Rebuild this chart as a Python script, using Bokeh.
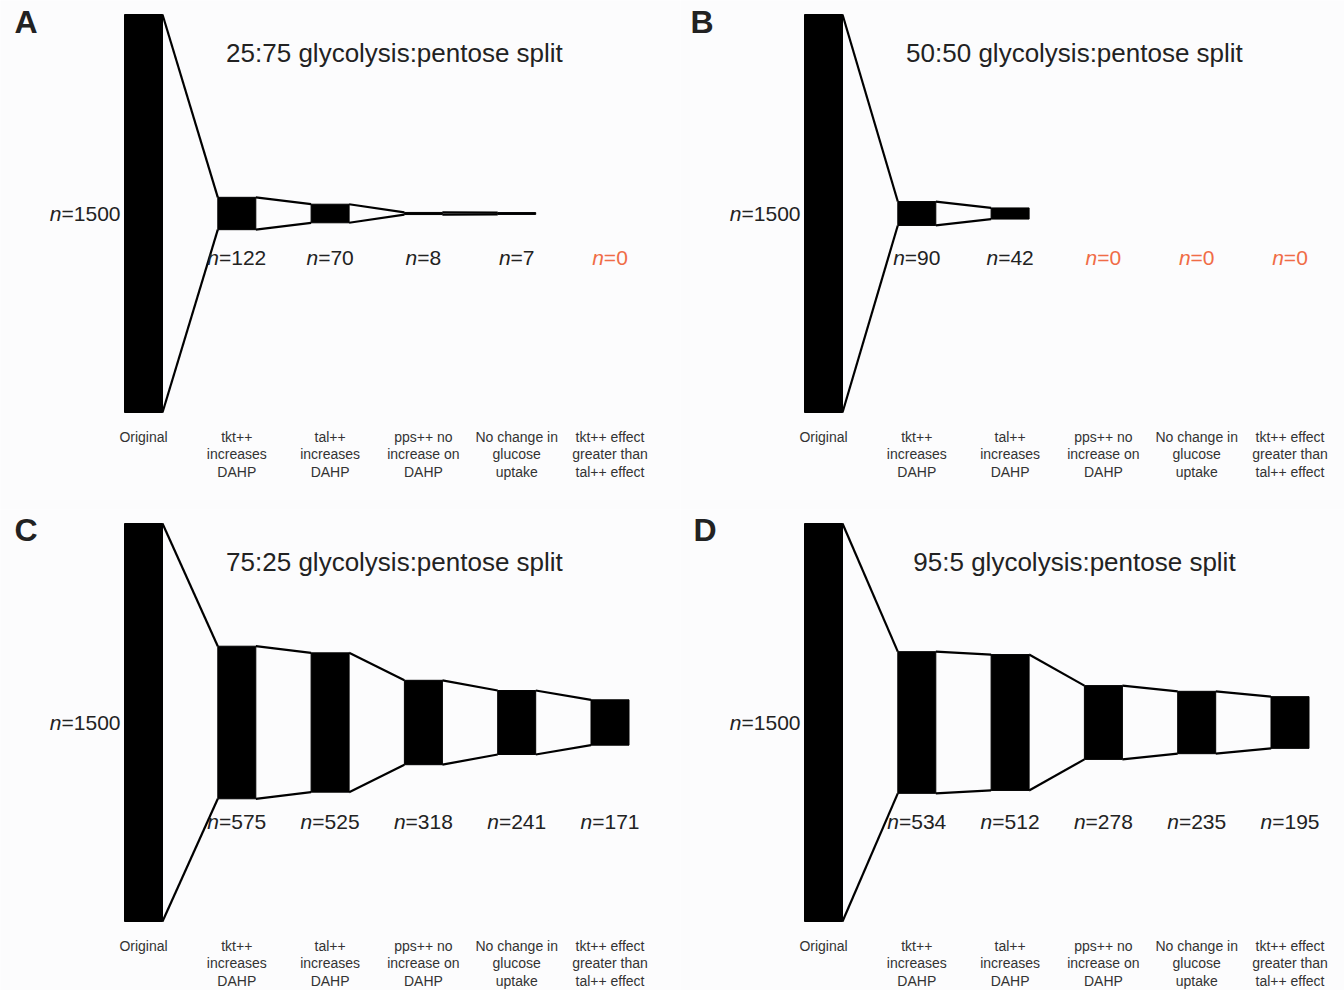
from bokeh.plotting import figure
from bokeh.layouts import column, row
from bokeh.models import Range1d
from bokeh.embed import file_html
from bokeh.resources import INLINE
from bokeh.core.properties import value

# ---------------- data ----------------
steps = [
    "Original",
    "tkt++\nincreases\nDAHP",
    "tal++\nincreases\nDAHP",
    "pps++ no\nincrease on\nDAHP",
    "No change in\nglucose\nuptake",
    "tkt++ effect\ngreater than\ntal++ effect",
]
panel_letters = ["A", "B", "C", "D"]
panel_titles = [
    "25:75 glycolysis:pentose split",
    "50:50 glycolysis:pentose split",
    "75:25 glycolysis:pentose split",
    "95:5 glycolysis:pentose split",
]
counts_A = [1500, 122, 70, 8, 7, 0]
counts_B = [1500, 90, 42, 0, 0, 0]
counts_C = [1500, 575, 525, 318, 241, 171]
counts_D = [1500, 534, 512, 278, 235, 195]

# ---------------- style ----------------
FONT = "Liberation Sans"
PX_X = 93.3            # pixels per step
PX_Y = 398.0 / 1500.0  # pixels per count
BAR_W = 38.0 / PX_X    # bar width in step units
CENTER_X = 143.0       # local pixel of first bar centre
CENTER_Y = 213.0       # local pixel of vertical centre
RED = "#f06c46"
BG = "#fcfcfd"
TXT = "#222222"
NFS = 21               # n-label font size
CHAR_W = {d: 0.556 for d in "0123456789"}
CHAR_W.update({"=": 0.584, "n": 0.556})


def tw(s, fs):
    return sum(CHAR_W.get(c, 0.556) for c in s) * fs


def make_panel(letter, title, counts, width, height, label_drop, letter_dx, letter_dy):
    xs, xe = -CENTER_X / PX_X, (width - CENTER_X) / PX_X
    ys, ye = -(height - CENTER_Y) / PX_Y, CENTER_Y / PX_Y
    p = figure(width=width, height=height, output_backend="svg",
               toolbar_location=None, x_range=Range1d(xs, xe),
               y_range=Range1d(ys, ye), min_border=0)
    p.axis.visible = False
    p.grid.visible = False
    p.outline_line_color = None
    p.background_fill_color = BG
    p.border_fill_color = BG

    idx = list(range(len(counts)))
    nz = [i for i in idx if counts[i] > 0]
    # bars
    p.vbar(x=nz, width=BAR_W, bottom=[-counts[i] / 2 for i in nz],
           top=[counts[i] / 2 for i in nz], fill_color="black",
           line_color="black", line_width=1)
    # connecting lines between consecutive non-zero bars
    x0, x1, y0t, y1t = [], [], [], []
    for a, b in zip(nz[:-1], nz[1:]):
        if b != a + 1:
            continue
        x0.append(a + BAR_W / 2)
        x1.append(b - BAR_W / 2)
        y0t.append(counts[a] / 2)
        y1t.append(counts[b] / 2)
    p.segment(x0=x0, y0=y0t, x1=x1, y1=y1t, line_color="black", line_width=2.2)
    p.segment(x0=x0, y0=[-v for v in y0t], x1=x1, y1=[-v for v in y1t],
              line_color="black", line_width=2.2)

    # category labels
    p.text(x=idx, y=[-750] * len(idx), text=steps, text_align="center",
           text_baseline="top", y_offset=16, text_font=value(FONT),
           text_font_size="14px", text_color="#333333", text_line_height=1.1)

    # n=1500 label on the left of the original bar
    rest0 = "=%d" % counts[0]
    p.text(x=[-BAR_W / 2], y=[0], text=[rest0], text_align="right",
           text_baseline="middle", x_offset=-4, y_offset=0,
           text_font=value(FONT), text_font_size="%dpx" % NFS,
           text_color=TXT)
    p.text(x=[-BAR_W / 2], y=[0], text=["n"], text_align="right",
           text_baseline="middle", x_offset=-4 - tw(rest0, NFS), y_offset=0,
           text_font=value(FONT), text_font_size="%dpx" % NFS,
           text_font_style="italic", text_color=TXT)

    # n labels under the other steps
    for i in idx[1:]:
        rest = "=%d" % counts[i]
        off = (tw("n", NFS) - tw(rest, NFS)) / 2
        col = RED if counts[i] == 0 else TXT
        p.text(x=[i], y=[0], text=[rest], text_align="left",
               text_baseline="middle", x_offset=off, y_offset=label_drop,
               text_font=value(FONT), text_font_size="%dpx" % NFS,
               text_color=col)
        p.text(x=[i], y=[0], text=["n"], text_align="right",
               text_baseline="middle", x_offset=off, y_offset=label_drop,
               text_font=value(FONT), text_font_size="%dpx" % NFS,
               text_font_style="italic", text_color=col)

    # title
    p.text(x=[2.69], y=[750], text=[title], text_align="center",
           text_baseline="middle", y_offset=38, text_font=value(FONT),
           text_font_size="26px", text_color=TXT)
    # panel letter
    p.text(x=[xs], y=[ye], text=[letter], text_align="left",
           text_baseline="middle", x_offset=letter_dx, y_offset=letter_dy,
           text_font=value(FONT), text_font_size="32px",
           text_font_style="bold", text_color=TXT)
    return p


pA = make_panel(panel_letters[0], panel_titles[0], counts_A, 680, 509, 44, 14, 21.5)
pB = make_panel(panel_letters[1], panel_titles[1], counts_B, 664, 509, 44, 10, 21.5)
pC = make_panel(panel_letters[2], panel_titles[2], counts_C, 680, 481, 99, 14, 20)
pD = make_panel(panel_letters[3], panel_titles[3], counts_D, 664, 481, 99, 13, 20.5)

layout = column(row(pA, pB), row(pC, pD))
open("out.html", "w").write(file_html(layout, INLINE))
